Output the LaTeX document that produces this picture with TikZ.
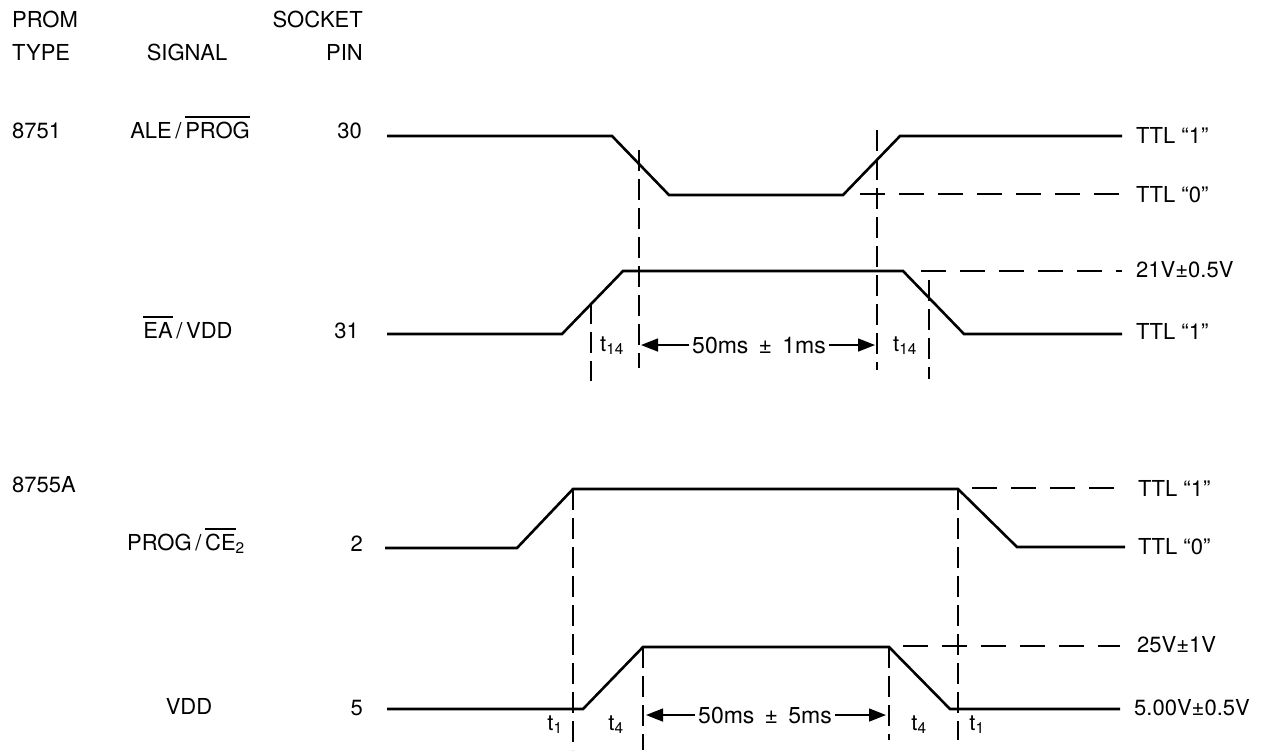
\documentclass[tikz,border=0pt]{standalone}
\usepackage{fontspec}
\setmainfont{TeX Gyre Heros}
\usetikzlibrary{arrows.meta}
\newcommand{\myovl}[1]{\leavevmode\vbox{\hrule height 1.6pt\kern 4pt\hbox{#1}}}
\begin{document}
\begin{tikzpicture}[x=1pt,y=-1pt,
  lbl/.style={inner sep=0pt,font=\fontsize{22}{26}\selectfont},
  mslbl/.style={inner sep=0pt,font=\fontsize{23}{27}\selectfont},
  wave/.style={line width=2.6pt,line join=miter},
  hdash/.style={line width=1.8pt,dash pattern=on 25pt off 14pt},
  vdash/.style={line width=1.6pt,dash pattern=on 21pt off 8pt},
  arr/.style={line width=1.5pt,shorten <=3pt,-{Triangle[length=17pt,width=13pt]}}]
\useasboundingbox[fill=white] (0,0) rectangle (1268,750);

% ---------- headers ----------
\node[lbl,anchor=base west] (prom) at (12,27) {PROM};
\node[lbl,anchor=base west] (type) at (12,60) {TYPE};
\node[lbl,anchor=base] (signal) at (187,60) {SIGNAL};
\node[lbl,anchor=base east] (socket) at (363,27) {SOCKET};
\node[lbl,anchor=base east] (pin) at (363,60) {PIN};

% ---------- left labels ----------
\node[lbl,anchor=base west] (p8751) at (12,138) {8751};
\node[lbl,anchor=base] (sigA) at (190,138) {ALE\,/\,\myovl{PROG}};
\node[lbl,anchor=base east] (pinA) at (362,138) {30};
\node[lbl,anchor=base] (sigB) at (188,338) {\myovl{EA}\,/\,VDD};
\node[lbl,anchor=base east] (pinB) at (359,338) {31};
\node[lbl,anchor=base west] (p8755) at (12,492) {8755A};
\node[lbl,anchor=base] (sigC) at (186,550) {PROG\,/\,\myovl{CE}\textsubscript{2}};
\node[lbl,anchor=base east] (pinC) at (363,551) {2};
\node[lbl,anchor=base] (sigD) at (189,714) {VDD};
\node[lbl,anchor=base east] (pinD) at (363,715) {5};

% ---------- right labels ----------
\node[lbl,anchor=west] (rA1) at (1136,135) {TTL “1”};
\node[lbl,anchor=west] (rA0) at (1136,195) {TTL “0”};
\node[lbl,anchor=west] (rB1) at (1136,270) {21V±0.5V};
\node[lbl,anchor=west] (rB0) at (1136,331) {TTL “1”};
\node[lbl,anchor=west] (rC1) at (1138,488) {TTL “1”};
\node[lbl,anchor=west] (rC0) at (1138,547) {TTL “0”};
\node[lbl,anchor=west] (rD1) at (1137,645) {25V±1V};
\node[lbl,anchor=west] (rD0) at (1134,708) {5.00V±0.5V};

% ---------- ALE/PROG waveform ----------
\coordinate (a0) at (387,136);
\coordinate (a1) at (612,136);
\coordinate (a2) at (669,195);
\coordinate (a3) at (843,195);
\coordinate (a4) at (900,136);
\coordinate (a5) at (1122,136);
\draw[wave] (a0) -- (a1) -- (a2) -- (a3) -- (a4) -- (a5);
\coordinate (ad0) at (860,194);
\coordinate (ad1) at (1122,194);
\draw[hdash] (ad0) -- (ad1);

% ---------- EA/VDD waveform ----------
\coordinate (b0) at (387,334);
\coordinate (b1) at (562,334);
\coordinate (b2) at (623,271);
\coordinate (b3) at (903,271);
\coordinate (b4) at (964,334);
\coordinate (b5) at (1122,334);
\draw[wave] (b0) -- (b1) -- (b2) -- (b3) -- (b4) -- (b5);
\coordinate (bd0) at (921,271);
\coordinate (bd1) at (1122,271);
\draw[hdash] (bd0) -- (bd1);

% vertical dashed (8751)
\coordinate (v1t) at (639,150); \coordinate (v1b) at (639,368);
\coordinate (v2t) at (877,130); \coordinate (v2b) at (877,370);
\coordinate (v3t) at (591,303); \coordinate (v3b) at (591,381);
\coordinate (v4t) at (929,280); \coordinate (v4b) at (929,379);
\draw[vdash] (v1t) -- (v1b);
\draw[vdash] (v2t) -- (v2b);
\draw[vdash] (v3t) -- (v3b);
\draw[vdash] (v4t) -- (v4b);

\node[lbl,anchor=base] (tA1) at (612,351) {t\textsubscript{14}};
\node[lbl,anchor=base] (tA2) at (905,351) {t\textsubscript{14}};
\node[mslbl,anchor=base] (msA) at (759,353) {50ms\ \,±\ \,1ms};
\coordinate (arAl) at (641,345);
\coordinate (arAr) at (875,345);
\draw[arr] (msA.west) -- (msA.west -| arAl);
\draw[arr] (msA.east) -- (msA.east -| arAr);

% ---------- PROG/CE2 waveform ----------
\coordinate (c0) at (385,548);
\coordinate (c1) at (517,548);
\coordinate (c2) at (573,489);
\coordinate (c3) at (958,489);
\coordinate (c4) at (1017,547);
\coordinate (c5) at (1125,547);
\draw[wave] (c0) -- (c1) -- (c2) -- (c3) -- (c4) -- (c5);
\coordinate (cd0) at (972,488);
\coordinate (cd1) at (1125,488);
\draw[hdash] (cd0) -- (cd1);

% ---------- VDD waveform ----------
\coordinate (d0) at (387,709);
\coordinate (d1) at (583,709);
\coordinate (d2) at (643,647);
\coordinate (d3) at (889,647);
\coordinate (d4) at (950,709);
\coordinate (d5) at (1120,709);
\draw[wave] (d0) -- (d1) -- (d2) -- (d3) -- (d4) -- (d5);
\coordinate (dd0) at (903,646);
\coordinate (dd1) at (1120,646);
\draw[hdash] (dd0) -- (dd1);

% vertical dashed (8755A)
\coordinate (v5t) at (573,489); \coordinate (v5b) at (573,750);
\coordinate (v6t) at (958,489); \coordinate (v6b) at (958,740);
\coordinate (v7t) at (643,647); \coordinate (v7b) at (643,750);
\coordinate (v8t) at (889,647); \coordinate (v8b) at (889,740);
\draw[vdash] (v5t) -- (v5b);
\draw[vdash] (v6t) -- (v6b);
\draw[vdash] (v7t) -- (v7b);
\draw[vdash] (v8t) -- (v8b);

\node[lbl,anchor=base] (tB1) at (555,730) {t\textsubscript{1}};
\node[lbl,anchor=base] (tB2) at (616,730) {t\textsubscript{4}};
\node[lbl,anchor=base] (tB3) at (919,730) {t\textsubscript{4}};
\node[lbl,anchor=base] (tB4) at (977,730) {t\textsubscript{1}};
\node[mslbl,anchor=base] (msB) at (765,723) {50ms\ \,±\ \,5ms};
\coordinate (arBl) at (646,715);
\coordinate (arBr) at (886,715);
\draw[arr] (msB.west) -- (msB.west -| arBl);
\draw[arr] (msB.east) -- (msB.east -| arBr);
\end{tikzpicture}
\end{document}
